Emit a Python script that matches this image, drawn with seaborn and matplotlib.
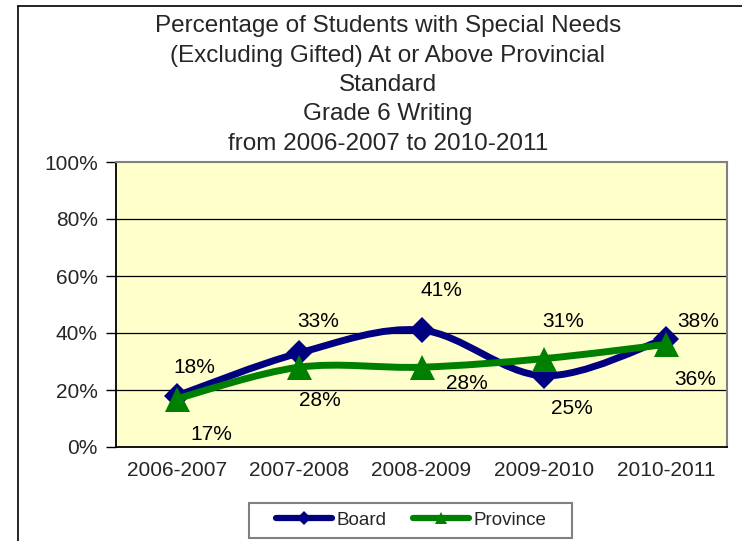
import numpy as np
import pandas as pd
import matplotlib
matplotlib.use("Agg")
import matplotlib.pyplot as plt
import seaborn as sns
from matplotlib.path import Path
from matplotlib.patches import PathPatch, Rectangle
from matplotlib.lines import Line2D

# ---- data ----
years = ["2006-2007", "2007-2008", "2008-2009", "2009-2010", "2010-2011"]
board = [18, 33, 41, 25, 38]
province = [17, 28, 28, 31, 36]
y_ticks = [0, 20, 40, 60, 80, 100]
y_tick_labels = ["0%", "20%", "40%", "60%", "80%", "100%"]
series_names = ["Board", "Province"]
title_lines = [
    "Percentage of Students with Special Needs",
    "(Excluding Gifted) At or Above Provincial",
    "Standard",
    "Grade 6 Writing",
    "from 2006-2007 to 2010-2011",
]

# label offsets in pixels (style only)
board_label_off = [(17, 28), (19, 31), (20, 40), (28, -33), (32, 17)]
prov_label_off = [(34, -36), (21, -33), (45, -16), (19, 37), (29, -35)]

BOARD_C = "#000080"
PROV_C = "#008000"

sns.set_style("white")
plt.rcParams["font.family"] = ["Liberation Sans", "DejaVu Sans"]

W, H = 742, 541
fig = plt.figure(figsize=(W / 100, H / 100), dpi=100)

# figure border (top and left visible)
fig.add_artist(Line2D([18 / W, 1.0], [1 - 6 / H, 1 - 6 / H], color="black", lw=1.2,
                      transform=fig.transFigure))
fig.add_artist(Line2D([18 / W, 18 / W], [1 - 6 / H, 0], color="black", lw=1.2,
                      transform=fig.transFigure))

left, right, top, bottom = 116 / W, 727 / W, 1 - 162 / H, 1 - 447 / H
ax = fig.add_axes([left, bottom, right - left, top - bottom])
ax.set_facecolor("#FFFFCC")

df = pd.DataFrame({
    "Year": years * 2,
    "Value": board + province,
    "Series": [series_names[0]] * len(years) + [series_names[1]] * len(years),
})


def smooth_path(xs, ys):
    xs = np.asarray(xs, float)
    ys = np.asarray(ys, float)
    pts = np.column_stack([xs, ys])
    n = len(pts)
    verts = [pts[0]]
    codes = [Path.MOVETO]
    for i in range(n - 1):
        p0 = pts[i - 1] if i > 0 else pts[i]
        p1 = pts[i]
        p2 = pts[i + 1]
        p3 = pts[i + 2] if i + 2 < n else pts[i + 1]
        c1 = p1 + (p2 - p0) / 6.0
        c2 = p2 - (p3 - p1) / 6.0
        verts += [c1, c2, p2]
        codes += [Path.CURVE4] * 3
    return Path(verts, codes)


xpos = np.arange(len(years))
for vals, color, z in [(board, BOARD_C, 3), (province, PROV_C, 5)]:
    ax.add_patch(PathPatch(smooth_path(xpos, vals), facecolor="none", edgecolor=color,
                           lw=5, zorder=z, capstyle="round", joinstyle="round"))

sns.lineplot(data=df[df["Series"] == "Board"], x="Year", y="Value", ax=ax,
             color=BOARD_C, marker="D", markersize=13, markeredgewidth=0,
             linewidth=0, zorder=4, legend=False)
sns.lineplot(data=df[df["Series"] == "Province"], x="Year", y="Value", ax=ax,
             color=PROV_C, marker="^", markersize=18, markeredgewidth=0,
             linewidth=0, zorder=6, legend=False)

# data labels
for i, v in enumerate(board):
    ax.annotate(f"{v}%", (i, v), xytext=board_label_off[i], textcoords="offset pixels",
                ha="center", va="center", fontsize=15, color="black", zorder=7)
for i, v in enumerate(province):
    ax.annotate(f"{v}%", (i, v), xytext=prov_label_off[i], textcoords="offset pixels",
                ha="center", va="center", fontsize=15, color="black", zorder=7)

ax.set_xlim(-0.5, len(years) - 0.5)
ax.set_ylim(0, 100)
ax.set_yticks(y_ticks)
ax.set_yticklabels(y_tick_labels, fontsize=15)
ax.set_xticks(xpos)
ax.set_xticklabels(years, fontsize=15)
ax.set_xticks(np.arange(len(years) + 1) - 0.5, minor=True)
ax.tick_params(axis="x", which="major", length=0, pad=10)
ax.tick_params(axis="x", which="minor", length=7, width=1, color="black", direction="out")
ax.tick_params(axis="y", length=7, width=1, color="black", direction="out", left=True, pad=6)
ax.set_xlabel("")
ax.set_ylabel("")

for yv in y_ticks[1:-1]:
    ax.axhline(yv, color="black", lw=0.9, zorder=1)

for s in ["left", "bottom"]:
    ax.spines[s].set_color("black")
    ax.spines[s].set_linewidth(1.3)
for s in ["top", "right"]:
    ax.spines[s].set_color("#808080")
    ax.spines[s].set_linewidth(1.5)
    ax.spines[s].set_visible(True)

# title
fig.text(388 / W, 1 - 85 / H, "\n".join(title_lines), ha="center", va="center",
         fontsize=17.5, linespacing=1.43)

# legend box
fig.add_artist(Rectangle((249 / W, 1 - 538 / H), (572 - 249) / W, (538 - 503) / H,
                         transform=fig.transFigure, facecolor="white",
                         edgecolor="#808080", lw=1.5))
handles = [
    Line2D([], [], color=BOARD_C, lw=4.5, marker="D", markersize=7, markeredgewidth=0,
           solid_capstyle="round"),
    Line2D([], [], color=PROV_C, lw=4.5, marker="^", markersize=9, markeredgewidth=0,
           solid_capstyle="round"),
]
leg = fig.legend(handles, series_names, loc="center", bbox_to_anchor=(411 / W, 1 - 520 / H),
                 ncol=2, frameon=False, fontsize=13.5, handlelength=3.0,
                 handletextpad=0.25, columnspacing=1.4)

fig.savefig("out.png", dpi=100)
